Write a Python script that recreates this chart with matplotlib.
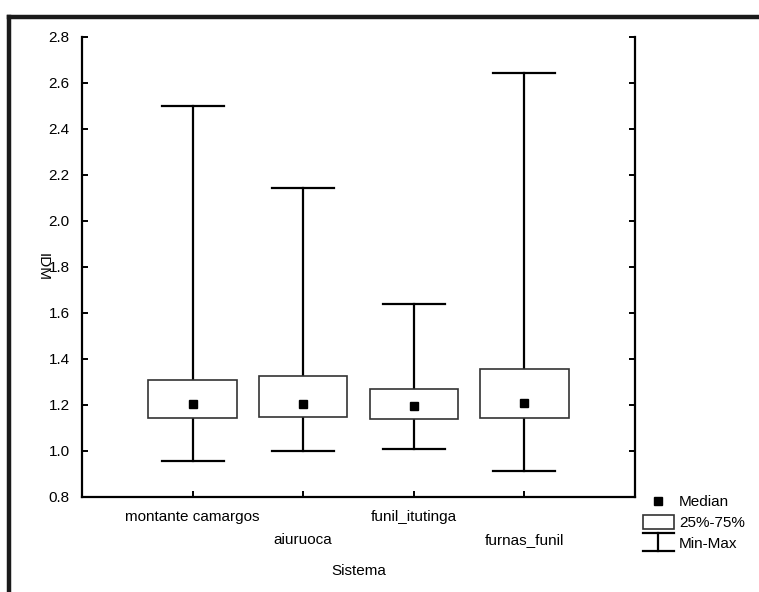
import matplotlib
matplotlib.use("Agg")
import matplotlib.pyplot as plt
from matplotlib.lines import Line2D
from matplotlib.patches import Rectangle
from matplotlib.legend_handler import HandlerBase

plt.rcParams['font.family'] = ['Liberation Sans', 'DejaVu Sans']

categories = ["montante camargos", "aiuruoca", "funil_itutinga", "furnas_funil"]
mins = [0.958, 1.000, 1.010, 0.913]
q1 = [1.143, 1.149, 1.138, 1.143]
medians = [1.203, 1.203, 1.196, 1.209]
q3 = [1.309, 1.325, 1.268, 1.355]
maxs = [2.500, 2.143, 1.640, 2.645]
yticks = [0.8, 1.0, 1.2, 1.4, 1.6, 1.8, 2.0, 2.2, 2.4, 2.6, 2.8]

W, H = 759, 592
fig = plt.figure(figsize=(W / 100, H / 100), dpi=100)
ax = fig.add_axes([82 / W, 1 - 497 / H, 553 / W, 460 / H])

box_w = 0.8
cap_w = 0.56
for i, cat in enumerate(categories):
    x = i + 1
    ax.add_patch(Rectangle((x - box_w / 2, q1[i]), box_w, q3[i] - q1[i],
                           facecolor='white', edgecolor='#333333', lw=1.2, zorder=3))
    ax.plot([x, x], [q3[i], maxs[i]], color='black', lw=1.6, zorder=2)
    ax.plot([x, x], [mins[i], q1[i]], color='black', lw=1.6, zorder=2)
    ax.plot([x - cap_w / 2, x + cap_w / 2], [maxs[i], maxs[i]], color='black', lw=1.6, zorder=2)
    ax.plot([x - cap_w / 2, x + cap_w / 2], [mins[i], mins[i]], color='black', lw=1.6, zorder=2)
    ax.plot([x], [medians[i]], marker='s', color='black', ms=6, zorder=4, ls='none')

ax.set_xlim(0, 5)
ax.set_ylim(0.8, 2.8)
ax.set_yticks(yticks)
ax.set_yticklabels([f"{v:.1f}" for v in yticks])
ax.set_xticks(range(1, len(categories) + 1))
ax.set_xticklabels([c if i % 2 == 0 else "\n" + c for i, c in enumerate(categories)],
                   linespacing=1.9)
ax.spines['top'].set_visible(False)
for s in ['left', 'bottom', 'right']:
    ax.spines[s].set_linewidth(1.6)
    ax.spines[s].set_color('black')
ax.tick_params(axis='both', direction='in', length=4, width=1.4, labelsize=11, color='black')
ax.tick_params(axis='y', right=True, pad=9)
ax.tick_params(axis='x', pad=9)
ax.set_xlabel("Sistema", fontsize=11, labelpad=12)
ax.set_ylabel("IDM", fontsize=11, rotation=270, ha='center', va='center')
ax.yaxis.set_label_coords(-0.0705, 0.5)


class MinMaxHandler(HandlerBase):
    def create_artists(self, legend, orig_handle, xdescent, ydescent, width, height, fontsize, trans):
        cy = height / 2 - ydescent
        h = 18 / 2 * 0.72
        x0, x1 = -xdescent, -xdescent + width
        xm = (x0 + x1) / 2
        arts = [Line2D([x0, x1], [cy + h, cy + h], color='black', lw=1.6),
                Line2D([x0, x1], [cy - h, cy - h], color='black', lw=1.6),
                Line2D([xm, xm], [cy - h, cy + h], color='black', lw=1.6)]
        for a in arts:
            a.set_transform(trans)
        return arts


class BoxHandler(HandlerBase):
    def create_artists(self, legend, orig_handle, xdescent, ydescent, width, height, fontsize, trans):
        cy = height / 2 - ydescent
        h = 14 * 0.72
        r = Rectangle((-xdescent, cy - h / 2), width, h, facecolor='white',
                      edgecolor='#333333', lw=1.2, transform=trans)
        return [r]


h_med = Line2D([], [], marker='s', color='black', ls='none', ms=6)
h_box = Rectangle((0, 0), 1, 1)
h_mm = Line2D([], [])
fig.legend([h_med, h_box, h_mm], ["Median", "25%-75%", "Min-Max"],
           handler_map={Rectangle: BoxHandler(), h_mm: MinMaxHandler()},
           loc='upper left', bbox_to_anchor=(643 / W, 1 - 495 / H),
           frameon=False, fontsize=11, borderpad=0, borderaxespad=0,
           handlelength=2.0, handletextpad=0.35, labelspacing=0.45)

# outer frame (partial)
fig.add_artist(Line2D([9 / W, 1], [1 - 17 / H, 1 - 17 / H], transform=fig.transFigure,
                      color='#1a1a1a', lw=3.2, solid_capstyle='projecting'))
fig.add_artist(Line2D([9 / W, 9 / W], [1 - 17 / H, 0], transform=fig.transFigure,
                      color='#1a1a1a', lw=3.2, solid_capstyle='projecting'))

fig.savefig("out.png", dpi=100)
